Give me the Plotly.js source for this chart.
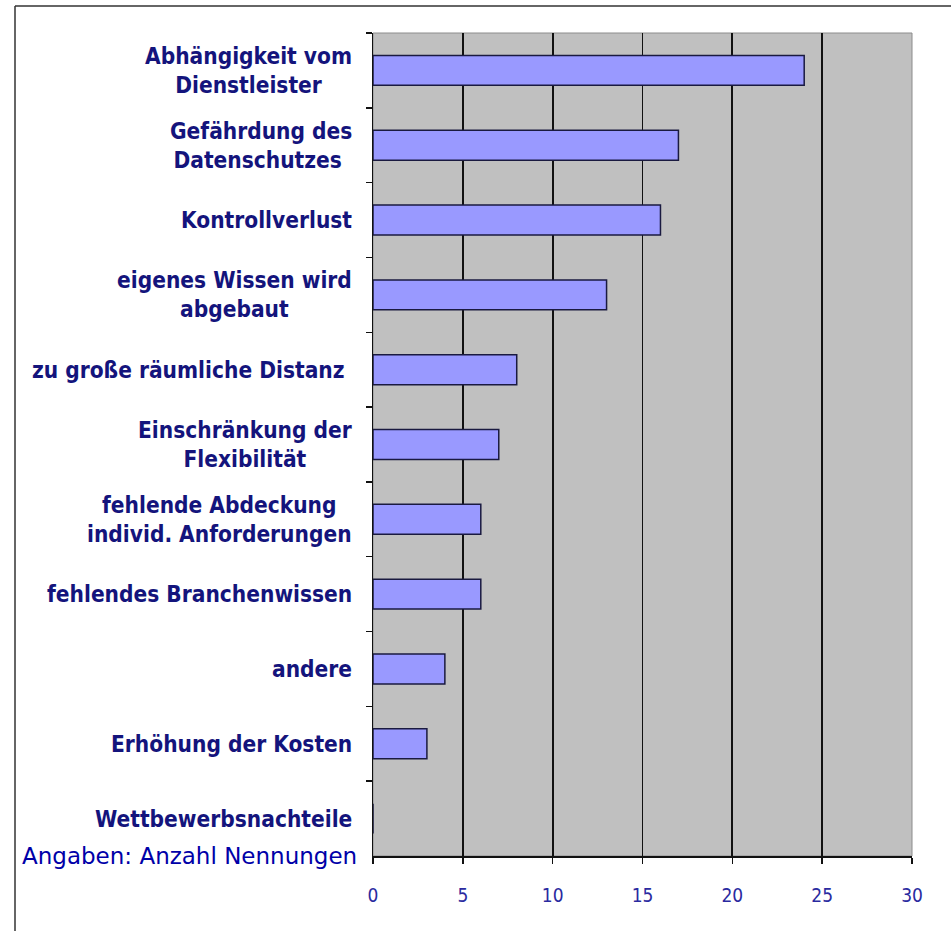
<!DOCTYPE html>
<html>
<head>
<meta charset="utf-8">
<script src="https://cdn.plot.ly/plotly-3.0.1.min.js"></script>
<style>body{margin:0;background:#fff;overflow:hidden;}#chart{width:951px;height:931px;}</style>
</head>
<body>
<div id="chart"></div>
<script>
const categories = [
  "Abhängigkeit vom<br>Dienstleister",
  "Gefährdung des<br>Datenschutzes ",
  "Kontrollverlust",
  "eigenes Wissen wird<br>abgebaut",
  "zu große räumliche Distanz ",
  "Einschränkung der<br>Flexibilität",
  "fehlende Abdeckung<br>individ. Anforderungen",
  "fehlendes Branchenwissen",
  "andere",
  "Erhöhung der Kosten",
  "Wettbewerbsnachteile"
];
const values = [24, 17, 16, 13, 8, 7, 6, 6, 4, 3, 0];
const xTicks = [0, 5, 10, 15, 20, 25, 30];
const noteText = "Angaben: Anzahl Nennungen";

const labelFont = {family: "DejaVu Sans Condensed, DejaVu Sans", size: 22.5, color: "#14147c", weight: 700};

const trace = {
  type: "bar",
  orientation: "h",
  y: categories,
  x: values,
  marker: {color: "#9999ff", line: {color: "#1a1a40", width: 1.5}},
  hoverinfo: "none"
};

const annotations = categories.map(c => ({
  xref: "x", yref: "y", x: 0, y: c, xanchor: "right", yanchor: "middle",
  xshift: -19, text: "<b>" + c + "</b>", showarrow: false, align: "center",
  font: labelFont
}));
annotations.push({
  xref: "x", yref: "paper", x: 0, y: 0, xanchor: "right", yanchor: "middle",
  xshift: -14, text: noteText, showarrow: false,
  font: {family: "DejaVu Sans", size: 23, color: "#0000a8"}
});

const bx = (15 - 373) / 539;
const by = 1 + 27 / 823;

const layout = {
  width: 951, height: 931,
  margin: {l: 373, r: 39, t: 33, b: 75, pad: 0},
  paper_bgcolor: "#ffffff",
  plot_bgcolor: "#c0c0c0",
  showlegend: false,
  bargap: 0.6,
  xaxis: {
    range: [0, 30], tickvals: xTicks, ticktext: xTicks.map(String),
    showgrid: true, gridcolor: "#111111", gridwidth: 1.7,
    zeroline: false, showline: true, linecolor: "#111111", linewidth: 1.5,
    ticks: "outside", ticklen: 6, tickcolor: "#111111", tickwidth: 1.5,
    ticklabelstandoff: 16,
    tickfont: {family: "DejaVu Sans Condensed, DejaVu Sans", size: 19, color: "#2a2aa0"},
    fixedrange: true
  },
  yaxis: {
    type: "category", autorange: "reversed",
    showticklabels: false, tickson: "boundaries",
    ticks: "outside", ticklen: 6, tickcolor: "#111111", tickwidth: 1.5,
    showgrid: false, zeroline: false,
    showline: true, linecolor: "#111111", linewidth: 1.5,
    fixedrange: true
  },
  annotations: annotations,
  shapes: [
    {type: "rect", xref: "x domain", yref: "y domain", x0: 0, x1: 1, y0: 0, y1: 1,
     line: {color: "#8c8c8c", width: 1}, layer: "below"},
    {type: "line", xref: "paper", yref: "paper", x0: bx, x1: bx, y0: -0.2, y1: by,
     line: {color: "#333333", width: 1.5}, layer: "above"},
    {type: "line", xref: "paper", yref: "paper", x0: bx, x1: 1.2, y0: by, y1: by,
     line: {color: "#333333", width: 1.5}, layer: "above"}
  ]
};

Plotly.newPlot("chart", [trace], layout, {displayModeBar: false, staticPlot: true});
</script>
</body>
</html>
